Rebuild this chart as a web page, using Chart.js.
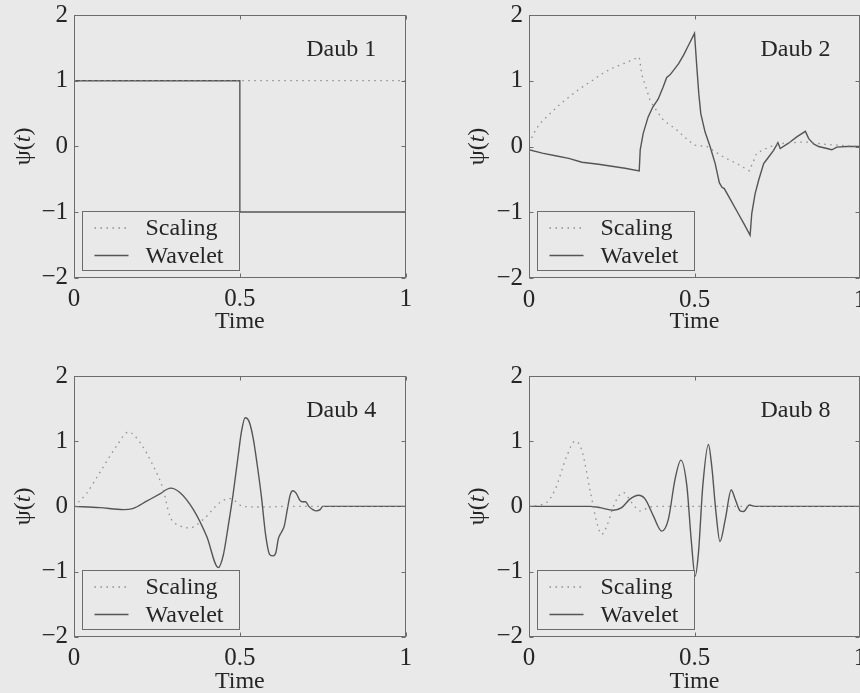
<!DOCTYPE html>
<html>
<head>
<meta charset="utf-8">
<title>Daubechies scaling and wavelet functions</title>
<script src="https://cdn.jsdelivr.net/npm/chart.js@4.4.1/dist/chart.umd.min.js"></script>
<style>
  html, body { margin: 0; padding: 0; }
  body { width: 860px; height: 693px; overflow: hidden; position: relative; background: #e9e9e9; }
  canvas { position: absolute; }
</style>
</head>
<body>
<canvas id="daub1" width="460" height="360" style="left:0px;top:0px"></canvas>
<canvas id="daub2" width="460" height="360" style="left:430px;top:0px"></canvas>
<canvas id="daub4" width="460" height="360" style="left:0px;top:346px"></canvas>
<canvas id="daub8" width="460" height="360" style="left:430px;top:346px"></canvas>
<script>
// axis ticks
const timeTicks = [0, 0.5, 1];
const valueTicks = [-2, -1, 0, 1, 2];

// Daub 1 (Haar)
const daub1ScalingT = [0, 0, 1, 1];
const daub1ScalingV = [0, 1, 1, 0];
const daub1WaveletT = [0, 0, 0.5, 0.5, 1, 1];
const daub1WaveletV = [0, 1, 1, -1, -1, 0];

// Daub 2
const daub2ScalingT = [0, 0.02, 0.033, 0.084, 0.12, 0.154, 0.19, 0.225, 0.255, 0.285, 0.323, 0.333,
  0.341, 0.366, 0.385, 0.406, 0.447, 0.475, 0.5, 0.537, 0.588, 0.628, 0.666, 0.688, 0.729, 0.77,
  0.833, 0.9, 1];
const daub2ScalingV = [0.05, 0.25, 0.35, 0.6, 0.75, 0.88, 1.0, 1.12, 1.2, 1.26, 1.34, 1.36,
  1.09, 0.7, 0.55, 0.4, 0.25, 0.12, 0.02, 0, -0.16, -0.26, -0.37, -0.1, 0, 0.05,
  0.07, 0.03, 0];
const daub2WaveletT = [0, 0.04, 0.08, 0.12, 0.16, 0.21, 0.25, 0.29, 0.333, 0.336, 0.345, 0.36, 0.374,
  0.39, 0.405, 0.416, 0.426, 0.44, 0.452, 0.467, 0.48, 0.5, 0.507, 0.513, 0.519, 0.532, 0.547,
  0.5625, 0.575, 0.583, 0.59, 0.61, 0.63, 0.65, 0.668, 0.673, 0.683, 0.694, 0.709, 0.715, 0.724,
  0.739, 0.752, 0.759, 0.784, 0.81, 0.835, 0.845, 0.86, 0.875, 0.9, 0.915, 0.93, 0.96, 1];
const daub2WaveletV = [-0.05, -0.1, -0.14, -0.18, -0.24, -0.27, -0.3, -0.33, -0.37, -0.05, 0.2, 0.45, 0.6,
  0.72, 0.9, 1.05, 1.09, 1.18, 1.26, 1.39, 1.52, 1.72, 1.21, 0.8, 0.5, 0.22, 0,
  -0.26, -0.55, -0.62, -0.64, -0.82, -1.0, -1.18, -1.35, -1.02, -0.72, -0.51, -0.26, -0.22, -0.16,
  -0.06, 0.06, -0.03, 0.05, 0.15, 0.23, 0.12, 0.04, 0, -0.03, -0.05, -0.01, 0, 0];

// Daub 4
const daub4ScalingT = [0, 0.038, 0.078, 0.129, 0.164, 0.199, 0.239, 0.269, 0.289, 0.32, 0.35, 0.39,
  0.44, 0.47, 0.51, 0.57, 0.65, 1];
const daub4ScalingV = [0, 0.2, 0.52, 0.93, 1.14, 0.98, 0.62, 0.26, -0.15, -0.3, -0.33, -0.2,
  0.06, 0.12, 0, -0.01, 0, 0];
const daub4WaveletT = [0, 0.078, 0.149, 0.179, 0.219, 0.259, 0.291, 0.32, 0.36, 0.4, 0.435, 0.45,
  0.465, 0.48, 0.495, 0.505, 0.516, 0.528, 0.54, 0.552, 0.565, 0.578, 0.59, 0.6, 0.608, 0.616,
  0.625, 0.634, 0.643, 0.652, 0.66, 0.67, 0.68, 0.688, 0.698, 0.708, 0.72, 0.73, 0.742, 0.75, 1];
const daub4WaveletV = [0, -0.02, -0.05, -0.03, 0.08, 0.19, 0.28, 0.21, -0.05, -0.46, -0.94, -0.75,
  -0.3, 0.2, 0.78, 1.15, 1.36, 1.3, 1.05, 0.65, 0.15, -0.45, -0.74, -0.76, -0.72, -0.5,
  -0.4, -0.3, -0.05, 0.18, 0.24, 0.2, 0.1, 0.07, 0.07, 0, -0.05, -0.07, -0.05, 0, 0];

// Daub 8
const daub8ScalingT = [0, 0.053, 0.079, 0.114, 0.139, 0.159, 0.184, 0.205, 0.22, 0.235, 0.26, 0.285,
  0.31, 0.336, 0.366, 0.4, 1];
const daub8ScalingV = [0, 0.06, 0.26, 0.77, 1.0, 0.87, 0.26, -0.25, -0.43, -0.3, 0.06, 0.21,
  0.06, -0.07, -0.01, 0, 0];
const daub8WaveletT = [0, 0.184, 0.215, 0.255, 0.28, 0.305, 0.331, 0.351, 0.376, 0.401, 0.421, 0.441,
  0.459, 0.477, 0.49, 0.502, 0.512, 0.525, 0.542, 0.552, 0.565, 0.577, 0.593, 0.611, 0.623, 0.638,
  0.648, 0.666, 0.683, 1];
const daub8WaveletV = [0, 0, -0.02, -0.06, -0.02, 0.11, 0.17, 0.11, -0.15, -0.38, -0.2, 0.41,
  0.71, 0.31, -0.51, -1.07, -0.71, 0.31, 0.95, 0.62, -0.1, -0.54, -0.2, 0.25, 0.11, -0.07,
  -0.08, 0.02, 0, 0];

const BG = '#e9e9e9';
const TEXT = '#262626';
const FRAME = '#6c6c6c';
const SERIF = "'Liberation Serif', 'DejaVu Serif', serif";

const pairs = (ts, vs) => ts.map((t, i) => ({ x: t, y: vs[i] }));
const fmtTick = v => (v < 0 ? '\u2212' + Math.abs(v) : String(v));

// frame, inward tick marks, boxed legend, panel label and the psi(t) axis label
const panelDecor = {
  id: 'panelDecor',
  afterDraw(chart, args, opts) {
    const { ctx, chartArea: a, scales } = chart;
    const L = Math.round(a.left) + 0.5, R = Math.round(a.right) - 0.5;
    const T = Math.round(a.top) + 0.5, B = Math.round(a.bottom) - 0.5;
    ctx.save();
    ctx.strokeStyle = FRAME;
    ctx.lineWidth = 1;
    ctx.setLineDash([]);
    ctx.strokeRect(L, T, R - L, B - T);

    const tl = 4;
    ctx.beginPath();
    scales.x.ticks.forEach(t => {
      const px = Math.round(scales.x.getPixelForValue(t.value)) + 0.5;
      ctx.moveTo(px, B); ctx.lineTo(px, B - tl);
      ctx.moveTo(px, T); ctx.lineTo(px, T + tl);
    });
    scales.y.ticks.forEach(t => {
      const py = Math.round(scales.y.getPixelForValue(t.value)) + 0.5;
      ctx.moveTo(L, py); ctx.lineTo(L + tl, py);
      ctx.moveTo(R, py); ctx.lineTo(R - tl, py);
    });
    ctx.stroke();

    // legend box in the lower-left corner
    const bx = Math.round(a.left + 8) + 0.5;
    const bh = 59, bw = 157;
    const by = Math.round(a.bottom - 8 - bh) + 0.5;
    ctx.fillStyle = BG;
    ctx.fillRect(bx, by, bw, bh);
    ctx.strokeStyle = FRAME;
    ctx.strokeRect(bx, by, bw, bh);
    ctx.font = '24px ' + SERIF;
    ctx.textBaseline = 'middle';
    ctx.textAlign = 'left';
    chart.data.datasets.forEach((ds, i) => {
      const ry = by + 16.5 + i * 27.5;
      ctx.strokeStyle = ds.borderColor;
      ctx.lineWidth = ds.borderWidth;
      ctx.setLineDash(ds.borderDash || []);
      ctx.beginPath();
      ctx.moveTo(bx + 12, ry);
      ctx.lineTo(bx + 46, ry);
      ctx.stroke();
      ctx.fillStyle = TEXT;
      ctx.fillText(ds.label, bx + 63, ry + 1);
    });

    ctx.setLineDash([]);
    ctx.textAlign = 'right';
    ctx.fillStyle = TEXT;
    ctx.fillText(opts.label, a.right - 29.5, a.top + 35);

    // rotated y label with an italic t
    const parts = [
      { text: '\u03c8(', font: '24px ' + SERIF },
      { text: 't', font: 'italic 24px ' + SERIF },
      { text: ')', font: '24px ' + SERIF }
    ];
    const widths = parts.map(p => { ctx.font = p.font; return ctx.measureText(p.text).width; });
    const total = widths.reduce((s, w) => s + w, 0);
    ctx.translate(opts.yLabelX, (a.top + a.bottom) / 2);
    ctx.rotate(-Math.PI / 2);
    ctx.textAlign = 'left';
    ctx.textBaseline = 'middle';
    let x = -total / 2;
    parts.forEach((p, i) => {
      ctx.font = p.font;
      ctx.fillText(p.text, x, 0);
      x += widths[i];
    });
    ctx.restore();
  }
};

function makePanel(id, label, scalingT, scalingV, waveletT, waveletV, g, smooth) {
  const W = 460, H = 360;
  const tickFont = { family: SERIF, size: 25 };
  const titleFont = { family: SERIF, size: 24 };
  return new Chart(document.getElementById(id), {
    type: 'scatter',
    data: {
      datasets: [
        {
          label: 'Scaling',
          data: pairs(scalingT, scalingV),
          showLine: true,
          borderColor: '#8e8e8e',
          borderWidth: 1.3,
          borderDash: [1.5, 4.5],
          pointRadius: 0,
          cubicInterpolationMode: smooth ? 'monotone' : 'default',
          tension: 0
        },
        {
          label: 'Wavelet',
          data: pairs(waveletT, waveletV),
          showLine: true,
          borderColor: '#555555',
          borderWidth: 1.4,
          pointRadius: 0,
          cubicInterpolationMode: smooth ? 'monotone' : 'default',
          tension: 0
        }
      ]
    },
    options: {
      responsive: false,
      animation: false,
      events: [],
      layout: {
        autoPadding: false,
        padding: { top: g.top, right: W - g.right, left: 0, bottom: 0 }
      },
      plugins: {
        legend: { display: false },
        tooltip: { enabled: false },
        panelDecor: { label: label, yLabelX: g.yLabelX }
      },
      scales: {
        x: {
          type: 'linear',
          min: 0,
          max: 1,
          afterFit: s => {
            s.height = H - g.bottom;
            s.paddingLeft = 0;
            s.paddingRight = 0;
          },
          afterBuildTicks: s => { s.ticks = timeTicks.map(v => ({ value: v })); },
          grid: { display: false, drawTicks: false },
          border: { display: false },
          ticks: { padding: 7, color: TEXT, font: tickFont, maxRotation: 0, autoSkip: false, callback: fmtTick },
          title: { display: true, text: 'Time', color: TEXT, font: titleFont, padding: { top: 0, bottom: g.xTitlePad } }
        },
        y: {
          type: 'linear',
          min: -2,
          max: 2,
          afterFit: s => {
            s.width = g.left;
            s.paddingTop = 0;
            s.paddingBottom = 0;
          },
          afterBuildTicks: s => { s.ticks = valueTicks.map(v => ({ value: v })); },
          grid: { display: false, drawTicks: false },
          border: { display: false },
          ticks: { padding: 6, color: TEXT, font: tickFont, autoSkip: false, callback: fmtTick }
        }
      }
    },
    plugins: [panelDecor]
  });
}

makePanel('daub1', 'Daub 1', daub1ScalingT, daub1ScalingV, daub1WaveletT, daub1WaveletV,
  { left: 74, right: 405.7, top: 15, bottom: 277.7, xTitlePad: 24, yLabelX: 24 }, false);
makePanel('daub2', 'Daub 2', daub2ScalingT, daub2ScalingV, daub2WaveletT, daub2WaveletV,
  { left: 99, right: 430, top: 15, bottom: 278, xTitlePad: 24, yLabelX: 47.5 }, false);
makePanel('daub4', 'Daub 4', daub4ScalingT, daub4ScalingV, daub4WaveletT, daub4WaveletV,
  { left: 74, right: 405.7, top: 30, bottom: 290.7, xTitlePad: 10, yLabelX: 24 }, true);
makePanel('daub8', 'Daub 8', daub8ScalingT, daub8ScalingV, daub8WaveletT, daub8WaveletV,
  { left: 99, right: 430, top: 30, bottom: 290.7, xTitlePad: 10, yLabelX: 47.5 }, true);
</script>
</body>
</html>
